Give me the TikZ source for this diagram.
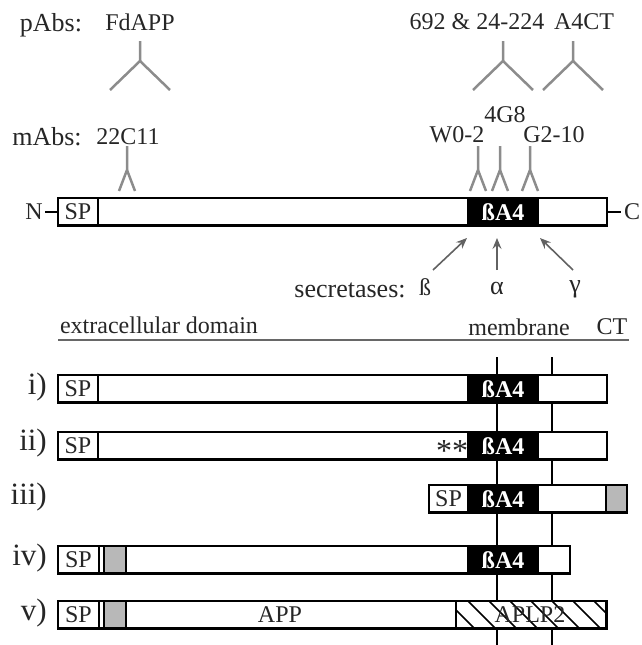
\documentclass[tikz,border=0pt]{standalone}
\usepackage{fontspec}
\setmainfont{Liberation Serif}
\usepackage{xcolor}
\usetikzlibrary{arrows.meta}
\definecolor{abgray}{gray}{0.55}
\definecolor{boxgray}{gray}{0.72}
\definecolor{txtgray}{gray}{0.15}
\tikzset{
    barbox/.style={draw=black, line width=2.5pt, fill=white, minimum height=27.5pt, inner sep=0pt, outer sep=0pt, anchor=north west},
    spbox/.style={barbox, text=txtgray, font=\fontsize{24}{24}\selectfont},
    blackbox/.style={barbox, minimum width=70pt, fill=black, text=white, font=\fontsize{24}{24}\selectfont\bfseries},
    graybox/.style={barbox, fill=boxgray},
    lbl/.style={text=txtgray, font=\fontsize{24}{24}\selectfont, inner sep=0pt},
    biglbl/.style={text=txtgray, font=\fontsize{26}{26}\selectfont, inner sep=0pt},
    rowlbl/.style={text=txtgray, font=\fontsize{31}{31}\selectfont, inner sep=0pt, anchor=east},
    antibody/.style={abgray, line width=2.5pt},
    secarrow/.style={-{Stealth[length=11pt,width=9pt,inset=4pt]}, abgray!70!black, line width=1.6pt}
}
\begin{document}
\begin{tikzpicture}[x=1pt,y=-1pt]
        \useasboundingbox (0,0) rectangle (642,645);

        % Anticorpos policlonais
        \node[biglbl] (pabs) at (51,25) {pAbs:};
        \node[lbl] (fdapp) at (140,22) {FdAPP};
        \node[lbl] (p692) at (477,22) {692 \& 24-224};
        \node[lbl] (a4ct) at (584,22) {A4CT};
        \foreach \x in {140,503,573} {
            \draw[antibody] (\x,41) -- (\x,61) -- (\x-30,90);
            \draw[antibody] (\x,61) -- (\x+30,90);
        }

        % Anticorpos monoclonais
        \node[biglbl] (mabs) at (47,137) {mAbs:};
        \node[lbl] (c22) at (128,137) {22C11};
        \node[lbl] (w02) at (457,135) {W0-2};
        \node[lbl] (g48) at (505,115) {4G8};
        \node[lbl] (g210) at (554,135) {G2-10};
        \foreach \x in {127,478,500,530} {
            \draw[antibody] (\x,146) -- (\x,170) -- (\x-8,191);
            \draw[antibody] (\x,170) -- (\x+8,191);
        }

        % Proteina completa
        \node[barbox, minimum width=549pt] (full) at (58,198) {};
        \node[spbox, minimum width=40pt] (sp) at (58,198) {SP};
        \node[blackbox] (ba) at (468,198) {ßA4};
        \node[lbl] (nt) at (34,212) {N};
        \node[lbl] (ct) at (632,212) {C};
        \draw[line width=2.5pt] (sp.west) -- ++(-13,0);
        \draw[line width=2.5pt] (full.east) -- ++(14,0);

        % Secretases
        \node[biglbl] (sec) at (350,290) {secretases:};
        \node[lbl] (sb) at (425,287) {ß};
        \node[biglbl] (sa) at (497,288) {α};
        \node[biglbl] (sg) at (575,289) {γ};
        \draw[secarrow] (433,270) -- (467,238);
        \draw[secarrow] (497,270) -- (497,238);
        \draw[secarrow] (573,270) -- (540,238);

        % Dominios
        \node[lbl] (dom) at (159,325) {extracellular domain};
        \node[lbl] (mem) at (519,327) {membrane};
        \node[lbl] (cterm) at (612,327) {CT};
        \draw[txtgray!70, line width=2.5pt] (58,340) -- (629,340);

        % Membrana
        \draw[line width=2.5pt] (497,357) -- (497,645);
        \draw[line width=2.5pt] (552,357) -- (552,645);

        % i)
        \node[rowlbl] (li) at (47,387) {i)};
        \node[barbox, minimum width=549pt] (ri) at (58,375) {};
        \node[spbox, minimum width=40pt] (risp) at (58,375) {SP};
        \node[blackbox] (riba) at (468,375) {ßA4};

        % ii)
        \node[rowlbl] (lii) at (47,443) {ii)};
        \node[barbox, minimum width=549pt] (rii) at (58,432) {};
        \node[spbox, minimum width=40pt] (riisp) at (58,432) {SP};
        \node[blackbox] (riiba) at (468,432) {ßA4};
        \node[text=txtgray, font=\fontsize{32}{32}\selectfont, inner sep=0pt] (stars) at (452,451) {**};

        % iii)
        \node[rowlbl] (liii) at (47,497) {iii)};
        \node[barbox, minimum width=198pt] (riii) at (429,485) {};
        \node[spbox, minimum width=39pt] (riiisp) at (429,485) {SP};
        \node[blackbox] (riiiba) at (468,485) {ßA4};
        \node[graybox, minimum width=21pt] (riiig) at (606,485) {};

        % iv)
        \node[rowlbl] (liv) at (47,558) {iv)};
        \node[barbox, minimum width=512pt] (riv) at (58,546) {};
        \node[spbox, minimum width=41pt] (rivsp) at (58,546) {SP};
        \node[graybox, minimum width=22pt] (rivg) at (104,546) {};
        \node[blackbox] (rivba) at (468,546) {ßA4};

        % v)
        \node[rowlbl] (lv) at (47,613) {v)};
        \node[barbox, minimum width=549pt] (rv) at (58,601) {};
        \node[spbox, minimum width=41pt] (rvsp) at (58,601) {SP};
        \node[graybox, minimum width=22pt] (rvg) at (104,601) {};
        \node[barbox, minimum width=150pt] (rvh) at (456,601) {};
        \begin{scope}
            \clip (456,601) rectangle (606,629);
            \foreach \x in {426,447,...,600} {
                \draw[line width=1.6pt] (\x,601) -- (\x+28,629);
            }
        \end{scope}
        \node[lbl] (app) at (280,615) {APP};
        \node[lbl] (aplp) at (530,615) {APLP2};
    \end{tikzpicture}
\end{document}
